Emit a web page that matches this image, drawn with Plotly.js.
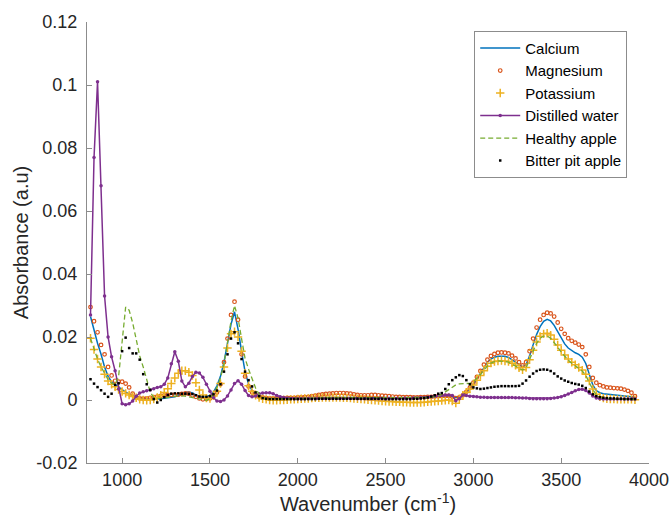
<!DOCTYPE html>
<html>
<head>
<meta charset="utf-8">
<script src="https://cdn.plot.ly/plotly-3.0.1.min.js"></script>
<style>html,body{margin:0;padding:0;background:#fff;}#chart{width:672px;height:522px;}</style>
</head>
<body>
<div id="chart"></div>
<script>
// Wavenumber sampling grid (cm^-1): 820, 840, ... 3920
const wavenumber = Array.from({length: 156}, (_, i) => 820 + 20 * i);

// Absorbance values, in milli-absorbance units (x 1e-3)
const calcium = [26.5,22,18,14.5,10.5,7.5,5.8,5,4,3.3,
 2.5,1.8,1.3,1.0,0.7,0.5,0.4,0.3,0.3,0.3,
 0.4,0.5,0.6,0.8,1.0,1.4,2.0,2.4,2.5,2.2,
 1.6,1.1,0.8,1.0,1.5,2.5,4.5,7.5,12,18,
 24,28,22.5,15.5,9,5,3,2,1.2,0.8,
 0.6,0.5,0.5,0.5,0.5,0.5,0.5,0.6,0.6,0.6,
 0.6,0.7,0.7,0.8,0.8,0.9,0.9,1.0,1.0,1.0,
 1.0,1.0,1.0,1.0,0.9,0.9,0.9,0.9,0.9,0.9,
 0.9,0.9,0.9,0.8,0.8,0.8,0.7,0.7,0.7,0.7,
 0.7,0.7,0.7,0.7,0.8,0.8,0.9,1.0,1.1,1.2,
 1.3,1.3,1.2,1.0,0.8,1.0,1.6,2.5,3.7,5.0,
 6.7,8.5,10.3,12,13,13.6,13.9,14,13.9,13.5,
 12.8,12,11.2,10.5,11.2,14,17.5,20.8,23.3,25,
 25.6,25.1,23.7,21.7,19.6,17.8,16.5,15.6,15,14.5,
 13.6,11.6,8.2,4.8,3,2.3,2,1.9,1.8,1.7,
 1.6,1.4,1.3,1.1,1.0,0.8];

const magnesium = [29.5,25,21.5,17.5,14.5,10.5,7.8,6.1,5.8,5.8,
 5.2,4.0,2.0,0.8,0.5,0.4,0.5,0.7,0.9,1.1,
 1.3,1.5,1.6,1.6,1.6,1.7,1.9,2.1,2.0,1.5,
 1.0,0.5,0.2,0.3,0.5,1.2,2.4,5,12,19.5,
 27,31.2,25.5,14.5,7.5,4.3,2.4,1.5,1.0,0.8,
 0.6,0.5,0.5,0.5,0.6,0.6,0.7,0.7,0.7,0.8,
 0.8,0.9,1.0,1.2,1.4,1.6,1.8,1.9,2.0,2.1,
 2.2,2.2,2.2,2.1,2.0,1.8,1.6,1.5,1.5,1.5,
 1.6,1.6,1.5,1.4,1.3,1.2,1.1,1.0,1.0,0.9,
 0.9,0.9,0.8,0.8,0.9,0.9,1.0,1.0,1.1,1.2,
 1.2,1.3,1.3,1.0,0.6,0.8,1.5,2.6,3.9,5.5,
 7.3,9.2,11.2,12.8,14,14.6,15,15.1,15,14.8,
 14.1,13.2,12,11,12,15.5,19.5,23,25.5,27,
 27.7,27.5,26.5,24.6,22.6,21,19.6,18.8,18.2,17.6,
 16.8,14.5,10.5,7,5.5,4.7,4.3,4.0,3.9,3.8,
 3.7,3.6,3.3,2.9,2.3,1.2];

const potassium = [19.6,16,13,10.5,8.2,6,5,4.2,3.3,2.7,
 2.1,1.6,1.1,0.7,0.2,0,-0.1,0,0.3,0.8,
 1.5,2.4,3.6,5.2,7,8.5,9.3,9.3,8.8,7.8,
 5.5,3.2,1.6,0.6,0.5,1.3,2.8,5.2,10.5,16.5,
 21,21.7,20,15.5,8.5,4.5,2.8,1.5,0.8,0.4,
 0.2,0,-0.1,-0.1,0,0,0.1,0.2,0.2,0.3,
 0.4,0.5,0.5,0.6,0.7,0.7,0.8,0.8,0.8,0.8,
 0.8,0.8,0.7,0.7,0.6,0.5,0.4,0.3,0.2,0.1,
 0,-0.1,-0.2,-0.3,-0.4,-0.5,-0.5,-0.6,-0.6,-0.7,
 -0.7,-0.8,-0.8,-0.8,-0.8,-0.7,-0.6,-0.5,-0.4,-0.3,
 -0.2,-0.1,0,-0.3,-1.0,0.2,1.5,2.5,3.5,4.8,
 6.3,7.8,9.3,10.7,11.7,12.2,12.4,12.5,12.4,12.2,
 11.7,11,10.2,9.6,10.3,12.8,15.8,18.4,20.2,21,
 21.2,20.6,19.3,17.5,15.8,14.3,13,12,11.2,10.3,
 9.5,8.2,6,3.5,1.8,1.0,0.6,0.4,0.3,0.3,
 0.2,0.2,0.2,0.2,0.2,0.1];

const distilledWater = [27,77,101,68,33,20,13.7,9.3,3.5,-1.2,
 -1.5,-1.2,-0.3,1.2,2.2,2.6,2.9,3.2,3.6,4.0,
 4.2,5,7,11.5,15.3,12.3,6,4.2,5.3,7.5,
 8.8,8.6,7.2,5,2.8,0.8,-0.3,-0.5,0,1.3,
 3.2,5.2,6.1,5,3,1.4,1,1.3,2,2.2,
 2.3,2.3,2,1.4,1,0.8,0.6,0.5,0.4,0.4,
 0.4,0.4,0.5,0.5,0.5,0.5,0.5,0.5,0.5,0.5,
 0.5,0.5,0.5,0.5,0.5,0.5,0.4,0.4,0.4,0.4,
 0.4,0.4,0.4,0.4,0.4,0.4,0.5,0.5,0.5,0.5,
 0.5,0.5,0.6,0.6,0.7,0.8,0.9,1.0,1.2,1.4,
 1.5,1.6,1.6,1.4,-0.2,0.4,1.6,1.4,1.2,1.1,
 1.0,0.9,0.9,0.8,0.8,0.8,0.8,0.8,0.8,0.8,
 0.8,0.7,0.7,0.6,0.6,0.5,0.4,0.4,0.4,0.4,
 0.4,0.5,0.6,0.8,1.0,1.4,1.9,2.4,2.9,3.3,
 3.4,3,2.2,1.3,0.6,0.4,0.3,0.3,0.3,0.3,
 0.3,0.3,0.3,0.3,0.3,0.3];

const healthyApple = [19.5,16,13,10.5,8.5,6.5,5.3,4.8,7.5,18,
 29.5,28.5,24.5,19.3,14,10.5,6.5,2.5,0.8,0.5,
 0.5,0.6,0.8,1.0,1.2,1.3,1.3,1.2,1.0,0.8,
 0.5,0.2,0,-0.1,0.4,1.8,4,7,11.5,18,
 25,30,26,19.5,13.2,9.8,7,3.8,1.8,0.8,
 0.5,0.4,0.4,0.4,0.4,0.4,0.5,0.5,0.5,0.5,
 0.5,0.6,0.6,0.6,0.7,0.7,0.7,0.8,0.8,0.8,
 0.8,0.8,0.8,0.8,0.8,0.7,0.7,0.7,0.7,0.7,
 0.7,0.7,0.6,0.6,0.6,0.6,0.6,0.6,0.6,0.6,
 0.6,0.6,0.6,0.6,0.7,0.7,0.8,0.9,1.0,1.2,
 1.8,2.6,3.4,4.2,4.8,5.1,5.2,5.2,5.3,5.8,
 6.8,8,9.5,10.8,11.7,12.2,12.4,12.4,12.2,12,
 11.5,10.8,10.1,9.5,10.2,12.6,15.5,18,19.6,20.3,
 20.3,19.6,18.3,16.8,15.2,13.8,12.7,11.7,10.8,10,
 9.2,7.8,5.6,3.3,1.7,1.0,0.6,0.5,0.4,0.4,
 0.3,0.3,0.3,0.3,0.3,0.2];

const bitterPitApple = [6.6,5.2,4.1,3.1,2.0,1.0,2.0,4.8,5.3,15.5,
 19.8,16.5,14.8,14.8,12.8,8.2,5.0,3.2,0.3,-0.8,
 0,0.9,1.6,2.0,2.1,2.1,2.0,2.0,1.9,1.9,
 1.5,1.1,1.0,1.0,1.2,1.8,3.0,5.0,9.0,14.5,
 19.5,21.5,18,13,9,6.3,4.3,2.4,1.2,0.6,
 0.4,0.3,0.3,0.3,0.3,0.3,0.3,0.3,0.3,0.3,
 0.3,0.3,0.3,0.3,0.3,0.4,0.4,0.4,0.4,0.4,
 0.4,0.4,0.4,0.4,0.4,0.4,0.4,0.4,0.4,0.4,
 0.4,0.4,0.4,0.4,0.3,0.3,0.3,0.3,0.3,0.3,
 0.3,0.3,0.4,0.4,0.5,0.6,0.8,1.1,1.5,2.0,
 2.2,3.5,5.0,6.3,7.2,7.9,7.6,6.3,5.0,4.0,
 3.7,3.5,3.6,3.8,4.0,4.2,4.3,4.4,4.4,4.4,
 4.4,4.4,4.5,5.2,6.2,7.4,8.4,9.2,9.6,9.7,
 9.6,9.2,8.4,7.5,6.8,6.2,5.8,5.4,5.1,4.9,
 4.5,3.8,2.7,1.8,1.2,0.9,0.7,0.6,0.5,0.5,
 0.4,0.4,0.3,0.3,0.3,0.3];

const seriesNames = ['Calcium', 'Magnesium', 'Potassium', 'Distilled water', 'Healthy apple', 'Bitter pit apple'];

const xTickVals = [1000, 1500, 2000, 2500, 3000, 3500, 4000];
const xTickText = ['1000', '1500', '2000', '2500', '3000', '3500', '4000'];
const yTickVals = [-0.02, 0, 0.02, 0.04, 0.06, 0.08, 0.1, 0.12];
const yTickText = ['-0.02', '0', '0.02', '0.04', '0.06', '0.08', '0.1', '0.12'];

const toAbs = arr => arr.map(v => v / 1000);

const traces = [
  {x: wavenumber, y: toAbs(calcium), name: seriesNames[0], type: 'scatter', mode: 'lines',
   line: {color: '#0072BD', width: 1.5}},
  {x: wavenumber, y: toAbs(magnesium), name: seriesNames[1], type: 'scatter', mode: 'markers',
   marker: {symbol: 'circle-open', size: 3.6, color: '#D95319', line: {width: 1.2, color: '#D95319'}}},
  {x: wavenumber, y: toAbs(potassium), name: seriesNames[2], type: 'scatter', mode: 'markers',
   marker: {symbol: 'cross-thin-open', size: 6, color: '#EDB120', line: {width: 1.5, color: '#EDB120'}}},
  {x: wavenumber, y: toAbs(distilledWater), name: seriesNames[3], type: 'scatter', mode: 'lines+markers',
   line: {color: '#7E2F8E', width: 1.5}, marker: {symbol: 'circle', size: 3.5, color: '#7E2F8E'}},
  {x: wavenumber, y: toAbs(healthyApple), name: seriesNames[4], type: 'scatter', mode: 'lines',
   line: {color: '#77AC30', width: 1.3, dash: '5px,3px'}},
  {x: wavenumber, y: toAbs(bitterPitApple), name: seriesNames[5], type: 'scatter', mode: 'markers',
   marker: {symbol: 'square', size: 2.5, color: '#000000'}}
];

const axisColor = '#8c8c8c';
const layout = {
  width: 672, height: 522,
  margin: {l: 87, r: 23, t: 22, b: 59, pad: 0},
  paper_bgcolor: '#ffffff', plot_bgcolor: '#ffffff',
  font: {family: '"Liberation Sans", Arial, sans-serif', size: 18, color: '#262626'},
  showlegend: true,
  xaxis: {
    range: [800, 4000], showgrid: false, zeroline: false, showline: true,
    linecolor: axisColor, linewidth: 1, mirror: false,
    ticks: 'inside', ticklen: 5, tickwidth: 1, tickcolor: axisColor,
    tickvals: xTickVals, ticktext: xTickText,
    tickfont: {size: 18, color: '#262626'},
    title: {text: 'Wavenumber (cm<sup>-1</sup>)', font: {size: 20, color: '#262626'}, standoff: 8}
  },
  yaxis: {
    range: [-0.02, 0.12], showgrid: false, zeroline: false, showline: true,
    linecolor: axisColor, linewidth: 1, mirror: false,
    ticks: 'inside', ticklen: 5, tickwidth: 1, tickcolor: axisColor,
    tickvals: yTickVals, ticktext: yTickText, ticklabelstandoff: 5,
    tickfont: {size: 18, color: '#262626'},
    title: {text: 'Absorbance (a.u)', font: {size: 20, color: '#262626'}, standoff: 2}
  },
  legend: {
    x: 0.689, y: 0.98, xanchor: 'left', yanchor: 'top',
    bgcolor: '#ffffff', bordercolor: axisColor, borderwidth: 1,
    font: {size: 15, color: '#000000'}, tracegroupgap: 0, itemwidth: 40
  }
};

Plotly.newPlot('chart', traces, layout, {staticPlot: true, displayModeBar: false});
</script>
</body>
</html>
